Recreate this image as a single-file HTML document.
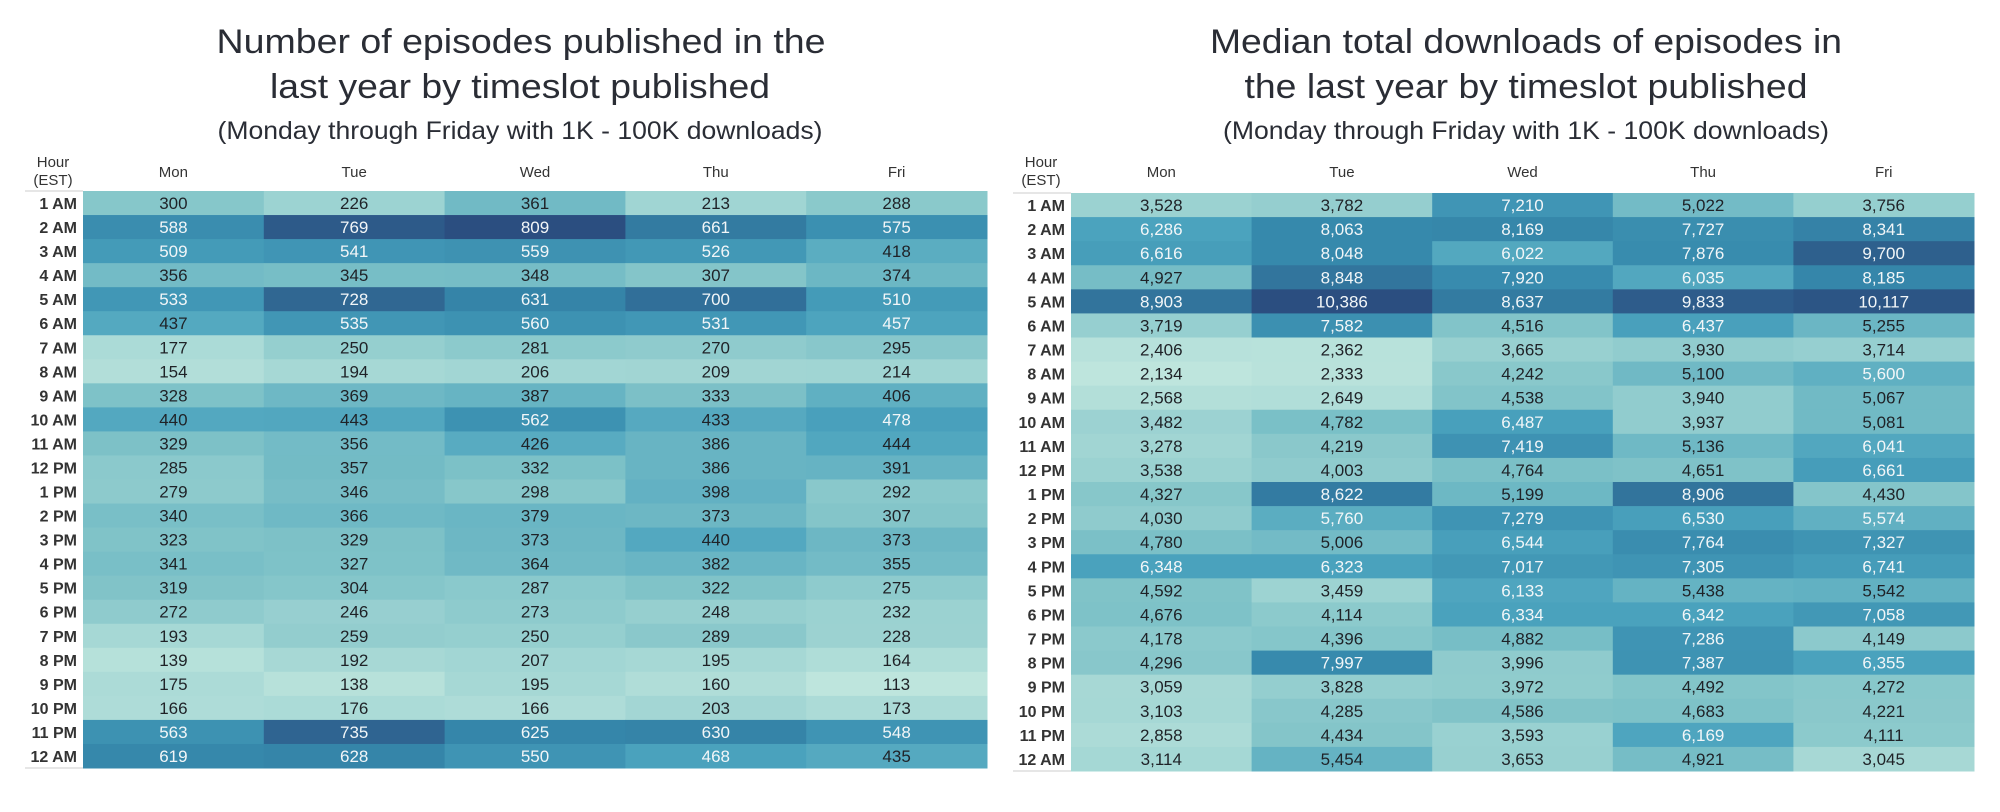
<!DOCTYPE html>
<html><head><meta charset="utf-8"><style>
body{margin:0;background:#fff;}
svg{display:block;font-family:"Liberation Sans",sans-serif;}
</style></head><body>
<svg id="c" width="2000" height="812" viewBox="0 0 2000 812">
<g fill="#2a2d35" text-anchor="middle">
<text x="521" y="53" font-size="34" textLength="609" lengthAdjust="spacingAndGlyphs">Number of episodes published in the</text>
<text x="520" y="98" font-size="34" textLength="500" lengthAdjust="spacingAndGlyphs">last year by timeslot published</text>
<text x="520" y="139" font-size="25" textLength="605" lengthAdjust="spacingAndGlyphs">(Monday through Friday with 1K - 100K downloads)</text>
</g>
<g fill="#2a2d35" text-anchor="middle">
<text x="1526" y="53" font-size="34" textLength="632" lengthAdjust="spacingAndGlyphs">Median total downloads of episodes in</text>
<text x="1526" y="98" font-size="34" textLength="563" lengthAdjust="spacingAndGlyphs">the last year by timeslot published</text>
<text x="1526" y="139" font-size="25" textLength="606" lengthAdjust="spacingAndGlyphs">(Monday through Friday with 1K - 100K downloads)</text>
</g>
</svg>
<script>
const days=["Mon","Tue","Wed","Thu","Fri"];
const hours=["1 AM","2 AM","3 AM","4 AM","5 AM","6 AM","7 AM","8 AM","9 AM","10 AM","11 AM","12 PM","1 PM","2 PM","3 PM","4 PM","5 PM","6 PM","7 PM","8 PM","9 PM","10 PM","11 PM","12 AM"];
const episodes=[
[300,226,361,213,288],[588,769,809,661,575],[509,541,559,526,418],[356,345,348,307,374],
[533,728,631,700,510],[437,535,560,531,457],[177,250,281,270,295],[154,194,206,209,214],
[328,369,387,333,406],[440,443,562,433,478],[329,356,426,386,444],[285,357,332,386,391],
[279,346,298,398,292],[340,366,379,373,307],[323,329,373,440,373],[341,327,364,382,355],
[319,304,287,322,275],[272,246,273,248,232],[193,259,250,289,228],[139,192,207,195,164],
[175,138,195,160,113],[166,176,166,203,173],[563,735,625,630,548],[619,628,550,468,435]];
const downloads=[
[3528,3782,7210,5022,3756],[6286,8063,8169,7727,8341],[6616,8048,6022,7876,9700],[4927,8848,7920,6035,8185],
[8903,10386,8637,9833,10117],[3719,7582,4516,6437,5255],[2406,2362,3665,3930,3714],[2134,2333,4242,5100,5600],
[2568,2649,4538,3940,5067],[3482,4782,6487,3937,5081],[3278,4219,7419,5136,6041],[3538,4003,4764,4651,6661],
[4327,8622,5199,8906,4430],[4030,5760,7279,6530,5574],[4780,5006,6544,7764,7327],[6348,6323,7017,7305,6741],
[4592,3459,6133,5438,5542],[4676,4114,6334,6342,7058],[4178,4396,4882,7286,4149],[4296,7997,3996,7387,6355],
[3059,3828,3972,4492,4272],[3103,4285,4586,4683,4221],[2858,4434,3593,6169,4111],[3114,5454,3653,4921,3045]];

const NS="http://www.w3.org/2000/svg";
const svg=document.getElementById('c');
const stops=[[0,[190,229,221]],[0.3,[128,195,200]],[0.5,[75,163,190]],[0.72,[54,137,172]],[1,[43,78,128]]];
function color(t){
  t=Math.max(0,Math.min(1,t));
  for(let i=1;i<stops.length;i++){
    if(t<=stops[i][0]){const a=stops[i-1],b=stops[i];const f=(t-a[0])/(b[0]-a[0]);
      const c=a[1].map((v,k)=>Math.round(v+(b[1][k]-v)*f));return `rgb(${c})`;}
  }
  return `rgb(${stops[4][1]})`;
}
function mk(tag,attrs,parent){const e=document.createElementNS(NS,tag);for(const k in attrs)e.setAttribute(k,attrs[k]);parent.appendChild(e);return e;}
function heatmap(name,data,x0,x1,y0,y1,labelRight,lineX,hourX,thr,fmt){
  const g=mk('g',{},svg);
  
  
  const flat=data.flat();const mn=Math.min(...flat),mx=Math.max(...flat);
  const cw=(x1-x0)/days.length, rh=(y1-y0)/hours.length;
  const xs=i=>x0+i*cw, ys=j=>y0+j*rh, sc=v=>(v-mn)/(mx-mn);
  const h1=mk('text',{x:hourX,y:167,'font-size':15,'text-anchor':'middle',fill:'#333'},g);h1.textContent='Hour';
  
  
  const h2=mk('text',{x:hourX,y:185,'font-size':15,'text-anchor':'middle',fill:'#333'},g);h2.textContent='(EST)';
  
  
  mk('line',{x1:lineX,x2:x0,y1:y0,y2:y0,stroke:'#ddd','stroke-width':1.5},g);
  mk('line',{x1:lineX,x2:x0,y1:y1,y2:y1,stroke:'#ddd','stroke-width':1.5},g);
  days.forEach((d,i)=>{
    const t=mk('text',{x:xs(i)+cw/2,y:177,'font-size':15,'text-anchor':'middle',fill:'#333'},g);t.textContent=d;
    
    
  });
  hours.forEach((h,j)=>{
    const t=mk('text',{x:labelRight,y:ys(j)+rh/2+6,'font-size':16,'text-anchor':'end',fill:'#333','font-weight':'bold'},g);t.textContent=h;
    
    
    data[j].forEach((v,i)=>{
      const s=sc(v);
      const r=mk('rect',{x:xs(i),y:ys(j),width:cw+0.5,height:rh+0.5,fill:color(s)},g);
      
      
      const tx=mk('text',{x:xs(i)+cw/2,y:ys(j)+rh/2+6,'font-size':17,'text-anchor':'middle',fill:s>thr?'#f2f6f8':'#1f2227'},g);
      tx.textContent=fmt(v);
      
      
    });
  });
}
heatmap('episodes-heatmap',episodes,83,987,191,768,77,25,53,0.485,v=>String(v));
heatmap('downloads-heatmap',downloads,1071,1974,193,771,1065,1013,1041,0.415,v=>v.toLocaleString('en-US'));
</script>
</body></html>
